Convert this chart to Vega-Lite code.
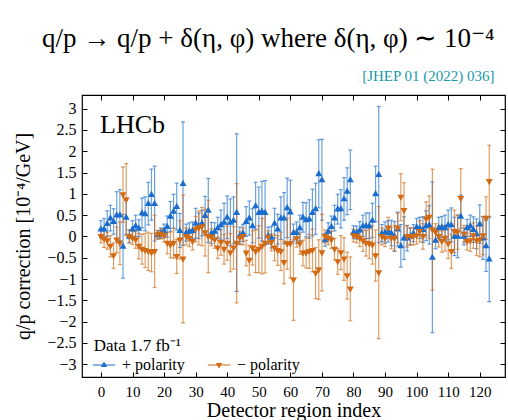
{
  "$schema": "https://vega.github.io/schema/vega-lite/v6.json",
  "width": 423,
  "height": 282,
  "autosize": {"type": "none"},
  "padding": {"left": 82, "top": 95, "right": 3, "bottom": 43},
  "background": "white",
  "title": {
    "text": "q/p → q/p + δ(η, φ) where δ(η, φ) ∼ 10⁻⁴",
    "subtitle": "[JHEP 01 (2022) 036]",
    "anchor": "end",
    "dx": -12,
    "font": "Liberation Serif",
    "fontSize": 27,
    "fontWeight": "normal",
    "color": "black",
    "subtitleFont": "Liberation Serif",
    "subtitleFontSize": 15,
    "subtitleColor": "#1a98a8",
    "subtitlePadding": 16,
    "offset": 10
  },
  "config": {
    "view": {"stroke": "black", "strokeWidth": 1.2},
    "font": "Liberation Serif",
    "axis": {
      "grid": false,
      "domain": false,
      "tickColor": "black",
      "tickSize": -5
    }
  },
  "datasets": {
    "plus": [
      {"i":0,"v":0.17,"e":0.2},{"i":1,"v":0.17,"e":0.25},{"i":2,"v":0.3,"e":0.3},{"i":3,"v":0.43,"e":0.3},{"i":4,"v":0.35,"e":0.3},
      {"i":5,"v":0.5,"e":0.55},{"i":6,"v":0.5,"e":0.6},{"i":7,"v":-0.23,"e":0.75},{"i":8,"v":0.45,"e":0.4},{"i":9,"v":0,"e":0.15},
      {"i":10,"v":0.17,"e":0.2},{"i":11,"v":0.25,"e":0.25},{"i":12,"v":0.19,"e":0.2},{"i":13,"v":0.55,"e":0.35},{"i":14,"v":0.53,"e":0.4},
      {"i":15,"v":0.77,"e":0.5},{"i":16,"v":0.98,"e":0.6},{"i":17,"v":0.77,"e":0.88},{"i":18,"v":0.04,"e":0.1},{"i":19,"v":0.08,"e":0.12},
      {"i":20,"v":0.14,"e":0.15},{"i":21,"v":0.23,"e":0.25},{"i":22,"v":0.47,"e":0.35},{"i":23,"v":0.59,"e":0.4},{"i":24,"v":0.7,"e":0.55},
      {"i":25,"v":0.14,"e":0.4},{"i":26,"v":1.24,"e":1.45},{"i":27,"v":0.09,"e":0.2},{"i":28,"v":0.12,"e":0.2},{"i":29,"v":0.14,"e":0.2},
      {"i":30,"v":0.31,"e":0.35},{"i":31,"v":0.25,"e":0.3},{"i":32,"v":0.31,"e":0.3},{"i":33,"v":0.49,"e":0.45},{"i":34,"v":0.61,"e":0.75},
      {"i":35,"v":0.08,"e":0.25},{"i":36,"v":0.12,"e":0.2},{"i":37,"v":0.2,"e":0.25},{"i":38,"v":0.27,"e":0.35},{"i":39,"v":0.33,"e":0.45},
      {"i":40,"v":0.45,"e":0.5},{"i":41,"v":0.33,"e":0.55},{"i":42,"v":0.38,"e":0.55},{"i":43,"v":0.56,"e":1.85},{"i":44,"v":0.02,"e":0.2},
      {"i":45,"v":0.08,"e":0.2},{"i":46,"v":0.35,"e":0.35},{"i":47,"v":0.43,"e":0.4},{"i":48,"v":0.25,"e":0.4},{"i":49,"v":0.72,"e":0.55},
      {"i":50,"v":0.56,"e":0.6},{"i":51,"v":0.59,"e":0.7},{"i":52,"v":0.56,"e":0.75},{"i":53,"v":0.02,"e":0.2},{"i":54,"v":-0.02,"e":0.25},
      {"i":55,"v":0.31,"e":0.35},{"i":56,"v":0.17,"e":0.35},{"i":57,"v":0.43,"e":0.5},{"i":58,"v":0.43,"e":0.6},{"i":59,"v":0.67,"e":0.7},
      {"i":60,"v":0.57,"e":0.75},{"i":61,"v":0.09,"e":0.2},{"i":62,"v":0.09,"e":0.25},{"i":63,"v":0.2,"e":0.3},{"i":64,"v":0.45,"e":0.35},
      {"i":65,"v":0.39,"e":0.4},{"i":66,"v":0.41,"e":0.45},{"i":67,"v":0.56,"e":0.55},{"i":68,"v":0.65,"e":0.6},{"i":69,"v":1.47,"e":0.8},
      {"i":70,"v":1.33,"e":0.95},{"i":71,"v":-0.08,"e":0.15},{"i":72,"v":0.12,"e":0.2},{"i":73,"v":0.23,"e":0.25},{"i":74,"v":0.43,"e":0.3},
      {"i":75,"v":0.64,"e":0.35},{"i":76,"v":0.65,"e":0.45},{"i":77,"v":0.88,"e":0.5},{"i":78,"v":1.06,"e":0.55},{"i":79,"v":1.33,"e":0.7},
      {"i":80,"v":0.1,"e":0.15},{"i":81,"v":0.09,"e":0.15},{"i":82,"v":0.15,"e":0.2},{"i":83,"v":0.25,"e":0.25},{"i":84,"v":0.25,"e":0.3},
      {"i":85,"v":0.25,"e":0.3},{"i":86,"v":0.38,"e":0.4},{"i":87,"v":1.0,"e":0.65},{"i":88,"v":1.45,"e":1.6},{"i":89,"v":0.08,"e":0.2},
      {"i":90,"v":0.09,"e":0.25},{"i":91,"v":0.12,"e":0.25},{"i":92,"v":0.08,"e":0.3},{"i":93,"v":0,"e":0.35},{"i":94,"v":0.17,"e":0.4},
      {"i":95,"v":-0.22,"e":0.5},{"i":96,"v":-0.04,"e":0.5},{"i":97,"v":-0.04,"e":0.3},{"i":98,"v":0,"e":0.2},{"i":99,"v":0.08,"e":0.2},
      {"i":100,"v":0.22,"e":0.2},{"i":101,"v":0.2,"e":0.25},{"i":102,"v":0.16,"e":0.3},{"i":103,"v":0.25,"e":0.35},{"i":104,"v":0.27,"e":0.45},
      {"i":105,"v":-0.49,"e":1.77},{"i":106,"v":-0.09,"e":0.2},{"i":107,"v":0.2,"e":0.25},{"i":108,"v":0.22,"e":0.25},{"i":109,"v":0.2,"e":0.3},
      {"i":110,"v":0.27,"e":0.35},{"i":111,"v":0.27,"e":0.4},{"i":112,"v":0,"e":0.45},{"i":113,"v":0,"e":0.5},{"i":114,"v":0.47,"e":0.5},
      {"i":115,"v":0,"e":0.2},{"i":116,"v":0.2,"e":0.2},{"i":117,"v":0.25,"e":0.25},{"i":118,"v":0.16,"e":0.3},{"i":119,"v":0.06,"e":0.35},
      {"i":120,"v":0.29,"e":0.45},{"i":121,"v":-0.04,"e":0.5},{"i":122,"v":-0.22,"e":0.6},{"i":123,"v":-0.53,"e":1.0}
    ],
    "minus": [
      {"i":0,"v":0,"e":0.15},{"i":1,"v":-0.06,"e":0.2},{"i":2,"v":-0.1,"e":0.2},{"i":3,"v":-0.23,"e":0.25},{"i":4,"v":-0.45,"e":0.3},
      {"i":5,"v":-0.08,"e":0.3},{"i":6,"v":-0.16,"e":0.5},{"i":7,"v":0.98,"e":0.65},{"i":8,"v":0.86,"e":0.85},{"i":9,"v":0,"e":0.15},
      {"i":10,"v":-0.04,"e":0.15},{"i":11,"v":-0.08,"e":0.2},{"i":12,"v":-0.23,"e":0.3},{"i":13,"v":-0.3,"e":0.35},{"i":14,"v":-0.33,"e":0.4},
      {"i":15,"v":-0.35,"e":0.45},{"i":16,"v":-0.38,"e":0.45},{"i":17,"v":-0.35,"e":0.85},{"i":18,"v":0.04,"e":0.1},{"i":19,"v":0.06,"e":0.12},
      {"i":20,"v":0.02,"e":0.15},{"i":21,"v":-0.16,"e":0.25},{"i":22,"v":-0.2,"e":0.3},{"i":23,"v":-0.16,"e":0.35},{"i":24,"v":-0.47,"e":0.4},
      {"i":25,"v":-0.08,"e":0.45},{"i":26,"v":-0.53,"e":1.5},{"i":27,"v":0,"e":0.2},{"i":28,"v":-0.04,"e":0.2},{"i":29,"v":-0.12,"e":0.2},
      {"i":30,"v":0.17,"e":0.3},{"i":31,"v":0.2,"e":0.4},{"i":32,"v":0.23,"e":0.45},{"i":33,"v":0.09,"e":0.55},{"i":34,"v":0,"e":0.85},
      {"i":35,"v":-0.02,"e":0.2},{"i":36,"v":-0.08,"e":0.2},{"i":37,"v":-0.27,"e":0.25},{"i":38,"v":-0.14,"e":0.3},{"i":39,"v":-0.3,"e":0.35},
      {"i":40,"v":-0.16,"e":0.4},{"i":41,"v":-0.38,"e":0.45},{"i":42,"v":-0.27,"e":0.5},{"i":43,"v":-0.16,"e":1.4},{"i":44,"v":-0.04,"e":0.15},
      {"i":45,"v":0,"e":0.2},{"i":46,"v":-0.39,"e":0.3},{"i":47,"v":-0.56,"e":0.35},{"i":48,"v":-0.27,"e":0.4},{"i":49,"v":-0.35,"e":0.5},
      {"i":50,"v":-0.3,"e":0.55},{"i":51,"v":-0.23,"e":0.65},{"i":52,"v":-0.16,"e":0.7},{"i":53,"v":-0.02,"e":0.15},{"i":54,"v":-0.14,"e":0.2},
      {"i":55,"v":-0.27,"e":0.3},{"i":56,"v":-0.33,"e":0.35},{"i":57,"v":-0.35,"e":0.45},{"i":58,"v":-0.61,"e":0.5},{"i":59,"v":-0.17,"e":0.6},
      {"i":60,"v":-0.17,"e":0.8},{"i":61,"v":-1.02,"e":0.95},{"i":62,"v":-0.05,"e":0.2},{"i":63,"v":-0.17,"e":0.25},{"i":64,"v":-0.39,"e":0.3},
      {"i":65,"v":-0.39,"e":0.35},{"i":66,"v":-0.35,"e":0.4},{"i":67,"v":-0.33,"e":0.5},{"i":68,"v":-0.86,"e":0.6},{"i":69,"v":-0.78,"e":0.7},
      {"i":70,"v":-0.38,"e":0.9},{"i":71,"v":0,"e":0.15},{"i":72,"v":-0.04,"e":0.15},{"i":73,"v":-0.08,"e":0.2},{"i":74,"v":-0.3,"e":0.25},
      {"i":75,"v":-0.59,"e":0.3},{"i":76,"v":-0.38,"e":0.4},{"i":77,"v":-0.53,"e":0.5},{"i":78,"v":-0.92,"e":0.55},{"i":79,"v":-1.23,"e":0.75},
      {"i":80,"v":0.02,"e":0.15},{"i":81,"v":0,"e":0.15},{"i":82,"v":-0.04,"e":0.2},{"i":83,"v":-0.1,"e":0.25},{"i":84,"v":-0.16,"e":0.3},
      {"i":85,"v":-0.17,"e":0.35},{"i":86,"v":-0.2,"e":0.45},{"i":87,"v":-0.45,"e":0.6},{"i":88,"v":-0.85,"e":1.55},{"i":89,"v":0,"e":0.2},
      {"i":90,"v":-0.04,"e":0.2},{"i":91,"v":0.2,"e":0.25},{"i":92,"v":-0.04,"e":0.25},{"i":93,"v":-0.04,"e":0.3},{"i":94,"v":0.2,"e":0.35},
      {"i":95,"v":0.92,"e":0.55},{"i":96,"v":0.61,"e":0.65},{"i":97,"v":0,"e":0.25},{"i":98,"v":0,"e":0.2},{"i":99,"v":0,"e":0.2},
      {"i":100,"v":0.02,"e":0.2},{"i":101,"v":0.12,"e":0.25},{"i":102,"v":0,"e":0.3},{"i":103,"v":0.41,"e":0.4},{"i":104,"v":0.45,"e":0.5},
      {"i":105,"v":0.16,"e":1.42},{"i":106,"v":0.1,"e":0.2},{"i":107,"v":0,"e":0.25},{"i":108,"v":-0.12,"e":0.25},{"i":109,"v":-0.04,"e":0.3},
      {"i":110,"v":-0.17,"e":0.35},{"i":111,"v":-0.35,"e":0.4},{"i":112,"v":0.12,"e":0.5},{"i":113,"v":0.1,"e":0.4},{"i":114,"v":0.89,"e":0.7},
      {"i":115,"v":0.06,"e":0.2},{"i":116,"v":-0.12,"e":0.2},{"i":117,"v":-0.1,"e":0.25},{"i":118,"v":0.02,"e":0.3},{"i":119,"v":-0.1,"e":0.35},
      {"i":120,"v":-0.08,"e":0.4},{"i":121,"v":0.02,"e":0.45},{"i":122,"v":0.43,"e":0.5},{"i":123,"v":1.29,"e":0.85}
    ],
    "one": [{}],
    "none": []
  },
  "resolve": {"axis": {"x": "independent", "y": "independent"}},
  "layer": [
    {
      "data": {"name": "plus"},
      "mark": {"type": "errorbar", "ticks": {"size": 4}, "color": "#1a6dcc", "opacity": 0.65, "thickness": 1.2},
      "encoding": {
        "x": {"field": "i", "type": "quantitative", "scale": {"domain": [-6, 128], "nice": false, "zero": false},
              "axis": {"orient": "bottom", "values": [0,10,20,30,40,50,60,70,80,90,100,110,120], "labelPadding": 12,
                       "labelFont": "Liberation Serif", "labelFontSize": 15, "labelColor": "black",
                       "title": "Detector region index", "titleFont": "Liberation Serif", "titleFontSize": 20, "titleFontWeight": "normal", "titleColor": "black", "titlePadding": 1}},
        "y": {"field": "v", "type": "quantitative", "scale": {"domain": [-3.3, 3.32], "nice": false, "zero": false},
              "axis": {"orient": "left", "values": [-3,-2.5,-2,-1.5,-1,-0.5,0,0.5,1,1.5,2,2.5,3], "format": "~g", "labelPadding": 11,
                       "labelFont": "Liberation Serif", "labelFontSize": 16, "labelColor": "black",
                       "title": "q/p correction [10⁻⁴/GeV]", "titleFont": "Liberation Serif", "titleFontSize": 20, "titleFontWeight": "normal", "titleColor": "black", "titlePadding": 13}},
        "yError": {"field": "e"}
      }
    },
    {
      "data": {"name": "minus"},
      "mark": {"type": "errorbar", "ticks": {"size": 4}, "color": "#d06a14", "opacity": 0.65, "thickness": 1.2},
      "encoding": {
        "x": {"field": "i", "type": "quantitative", "axis": {"orient": "top", "values": [0,10,20,30,40,50,60,70,80,90,100,110,120], "labels": false, "title": null}},
        "y": {"field": "v", "type": "quantitative", "axis": {"orient": "right", "values": [-3,-2.5,-2,-1.5,-1,-0.5,0,0.5,1,1.5,2,2.5,3], "labels": false, "title": null}},
        "yError": {"field": "e"}
      }
    },
    {
      "data": {"name": "none"},
      "mark": {"type": "point", "filled": true, "opacity": 1, "strokeWidth": 1.1, "size": 20},
      "encoding": {
        "x": {"field": "i", "type": "quantitative", "axis": null},
        "y": {"field": "v", "type": "quantitative", "axis": null},
        "fill": {"field": "p", "type": "nominal", "scale": {"domain": ["+ polarity", "− polarity"], "range": ["#1a6dcc", "#d06a14"]},
                 "legend": {"title": null, "orient": "none", "legendX": 14, "legendY": 262, "direction": "horizontal", "columnPadding": 20, "symbolSize": 20, "labelOffset": 10,
                            "symbolStrokeWidth": 1.1,
                            "labelFont": "Liberation Serif", "labelFontSize": 16, "labelColor": "black"}},
        "stroke": {"field": "p", "type": "nominal", "scale": {"domain": ["+ polarity", "− polarity"], "range": ["#1a6dcc", "#d06a14"]}},
        "shape": {"field": "p", "type": "nominal", "scale": {"domain": ["+ polarity", "− polarity"], "range": ["M-5,0H5M0,-1.1L1,0.7L-1,0.7Z", "M-5,0H5M0,1.1L1,-0.7L-1,-0.7Z"]}}
      }
    },
    {
      "data": {"name": "plus"},
      "transform": [{"calculate": "'+ polarity'", "as": "p"}],
      "mark": {"type": "point", "filled": true, "opacity": 1, "size": 48},
      "encoding": {
        "x": {"field": "i", "type": "quantitative", "axis": null},
        "y": {"field": "v", "type": "quantitative", "axis": null},
        "fill": {"field": "p", "type": "nominal"},
        "shape": {"field": "p", "type": "nominal"}
      }
    },
    {
      "data": {"name": "minus"},
      "transform": [{"calculate": "'− polarity'", "as": "p"}],
      "mark": {"type": "point", "filled": true, "opacity": 1, "size": 48},
      "encoding": {
        "x": {"field": "i", "type": "quantitative", "axis": null},
        "y": {"field": "v", "type": "quantitative", "axis": null},
        "fill": {"field": "p", "type": "nominal"},
        "shape": {"field": "p", "type": "nominal"}
      }
    },
    {
      "data": {"name": "one"},
      "mark": {"type": "text", "text": "LHCb", "font": "Liberation Serif", "fontSize": 26, "align": "left", "baseline": "middle", "color": "black"},
      "encoding": {
        "x": {"datum": -0.3, "type": "quantitative", "axis": null},
        "y": {"datum": 2.62, "type": "quantitative", "axis": null}
      }
    },
    {
      "data": {"name": "one"},
      "mark": {"type": "text", "text": "Data 1.7 fb⁻¹", "font": "Liberation Serif", "fontSize": 17, "align": "left", "baseline": "middle", "color": "black"},
      "encoding": {
        "x": {"datum": -2.3, "type": "quantitative", "axis": null},
        "y": {"datum": -2.57, "type": "quantitative", "axis": null}
      }
    }
  ]
}
